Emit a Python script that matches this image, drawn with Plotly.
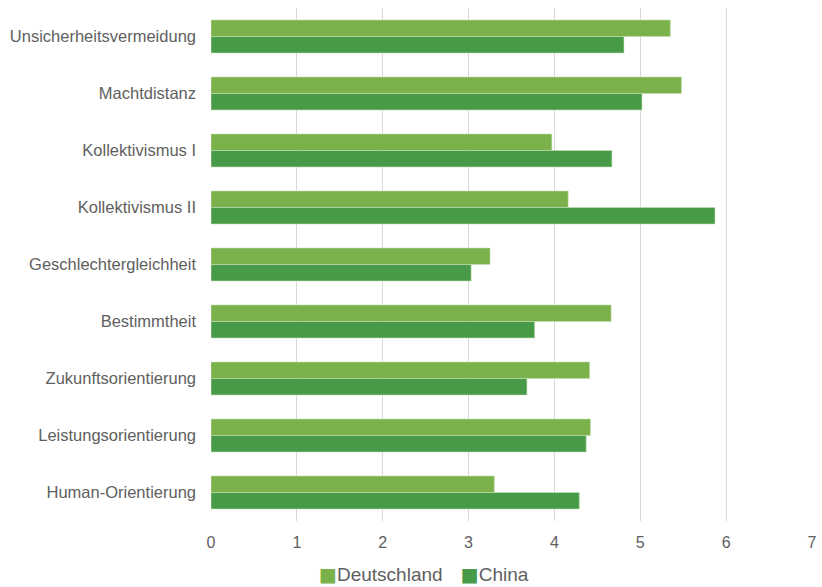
import plotly.graph_objects as go

categories = ["Unsicherheitsvermeidung", "Machtdistanz", "Kollektivismus I", "Kollektivismus II",
              "Geschlechtergleichheit", "Bestimmtheit", "Zukunftsorientierung",
              "Leistungsorientierung", "Human-Orientierung"]
deutschland = [5.35, 5.48, 3.97, 4.16, 3.25, 4.66, 4.41, 4.42, 3.30]
china = [4.81, 5.02, 4.67, 5.87, 3.03, 3.77, 3.68, 4.37, 4.29]
series_names = ["Deutschland", "China"]
series_colors = ["#7BB14A", "#479A48"]

font_family = "Liberation Sans, Arial, sans-serif"
gray = "#606060"

fig = go.Figure()
for name, vals, col in zip(series_names, [deutschland, china], series_colors):
    fig.add_trace(go.Bar(y=categories, x=vals, name=name, orientation="h", showlegend=False,
                         marker=dict(color=col, line=dict(color="#C9E0B5", width=0.6))))

# legend drawn as text entries built from the series names/colours
legend_text = "&nbsp;&nbsp;&nbsp;".join(
    f'<span style="color:{c}">■</span><span style="font-family:{font_family}">{n}</span>'
    for n, c in zip(series_names, series_colors)
)
fig.add_annotation(xref="paper", yref="paper", x=0.355, y=-0.104, xanchor="center", yanchor="middle",
                   text=legend_text, showarrow=False,
                   font=dict(size=19, color=gray, family="DejaVu Sans, " + font_family))

fig.update_layout(
    width=822, height=587,
    margin=dict(l=211, r=5, t=8, b=66),
    plot_bgcolor="white", paper_bgcolor="white",
    barmode="group", bargap=0.42, bargroupgap=0,
    font=dict(family=font_family, color=gray, size=16),
    xaxis=dict(range=[0, 7], dtick=1, showgrid=True, gridcolor="#D9D9D9", gridwidth=1.3,
               zeroline=False, showline=False, tickfont=dict(size=16, color=gray),
               ticklabelstandoff=10, fixedrange=True),
    yaxis=dict(autorange="reversed", showgrid=False, showline=False,
               tickfont=dict(size=16.5, color=gray), ticklabelstandoff=14, fixedrange=True),
    showlegend=False,
)

fig.write_html("out.html")
